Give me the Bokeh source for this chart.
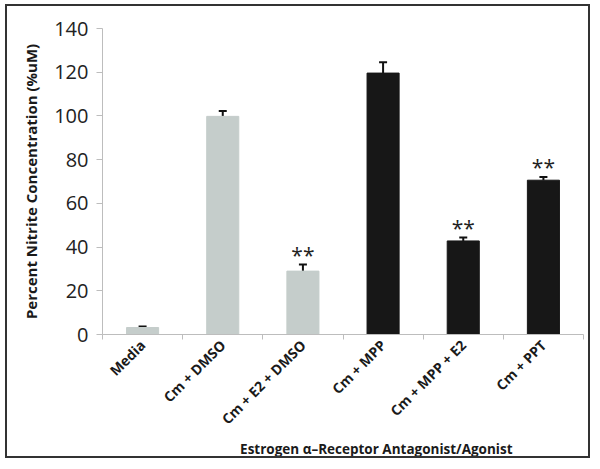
import math
from bokeh.plotting import figure
from bokeh.models import ColumnDataSource, FixedTicker, Whisker, TeeHead
from bokeh.core.properties import value
from bokeh.embed import file_html
from bokeh.resources import INLINE

categories = ["Media", "Cm + DMSO", "Cm + E2 + DMSO", "Cm + MPP", "Cm + MPP + E2", "Cm + PPT"]
values = [3.2, 99.8, 29.0, 119.6, 42.8, 70.6]
errors = [0.5, 2.5, 3.0, 5.0, 1.6, 1.5]
significant = ["", "", "**", "", "**", "**"]
bar_colors = ["#c5cdcb", "#c5cdcb", "#c5cdcb", "#171717", "#171717", "#171717"]
y_ticks = [0, 20, 40, 60, 80, 100, 120, 140]
x_title = "Estrogen \u03b1\u2013Receptor Antagonist/Agonist"

FONT = "Open Sans"

xs = [i + 0.5 for i in range(len(categories))]
uppers = [v + e for v, e in zip(values, errors)]
star_y = [u + 4.5 for u in uppers]

src = ColumnDataSource(dict(x=xs, top=values, upper=uppers, color=bar_colors,
                            star=significant, star_y=star_y))

p = figure(width=585, height=454, x_range=(0, len(categories)), y_range=(0, 140),
           output_backend="svg", toolbar_location=None,
           min_border_left=95, min_border_right=9, min_border_top=22, min_border_bottom=116)
p.styles = {"border": "2px solid #333333",
            "margin-left": "5px", "margin-top": "4px"}

p.vbar(x="x", top="top", width=0.4, bottom=0, color="color", source=src)

w = Whisker(base="x", upper="upper", lower="top", source=src, line_color="#111111", line_width=2,
            upper_head=TeeHead(size=8, line_color="#111111", line_width=2), lower_head=None)
p.add_layout(w)

p.text(x="x", y="star_y", text="star", source=src, text_align="center", text_baseline="alphabetic",
       text_font=value(FONT), text_font_size="21px", text_color="#222222")

p.grid.visible = False
p.outline_line_color = None
p.background_fill_color = "white"
p.border_fill_color = "white"

# y axis
p.yaxis.ticker = FixedTicker(ticks=y_ticks)
p.yaxis.axis_line_color = "#bdbdbd"
p.yaxis.major_tick_line_color = "#bdbdbd"
p.yaxis.major_tick_out = 6
p.yaxis.major_tick_in = 0
p.yaxis.minor_tick_line_color = None
p.yaxis.major_label_text_font = FONT
p.yaxis.major_label_text_font_size = "20px"
p.yaxis.major_label_text_color = "#222222"
p.yaxis.major_label_standoff = 8
p.yaxis.axis_label = "Percent Nitrite Concentration (%uM)"
p.yaxis.axis_label_text_font = FONT
p.yaxis.axis_label_text_font_style = "bold"
p.yaxis.axis_label_text_font_size = "15px"
p.yaxis.axis_label_text_color = "#1a1a1a"
p.yaxis.axis_label_standoff = 10

# x axis
p.xaxis.ticker = FixedTicker(ticks=xs, minor_ticks=list(range(len(categories) + 1)))
p.xaxis.major_label_overrides = {x: c for x, c in zip(xs, categories)}
p.xaxis.axis_line_color = "#bdbdbd"
p.xaxis.major_tick_line_color = None
p.xaxis.minor_tick_line_color = "#bdbdbd"
p.xaxis.minor_tick_out = 5
p.xaxis.minor_tick_in = 0
p.xaxis.major_label_orientation = math.pi / 4
p.xaxis.major_label_text_font = FONT
p.xaxis.major_label_text_font_style = "bold"
p.xaxis.major_label_text_font_size = "14px"
p.xaxis.major_label_text_color = "#1a1a1a"
p.xaxis.major_label_standoff = 2
p.xaxis.axis_label = "\u00a0" * 19 + x_title
p.xaxis.axis_label_text_font = FONT
p.xaxis.axis_label_text_font_style = "bold"
p.xaxis.axis_label_text_font_size = "13.5px"
p.xaxis.axis_label_text_color = "#1a1a1a"
p.xaxis.axis_label_standoff = 2

open("out.html", "w").write(file_html(p, INLINE))
